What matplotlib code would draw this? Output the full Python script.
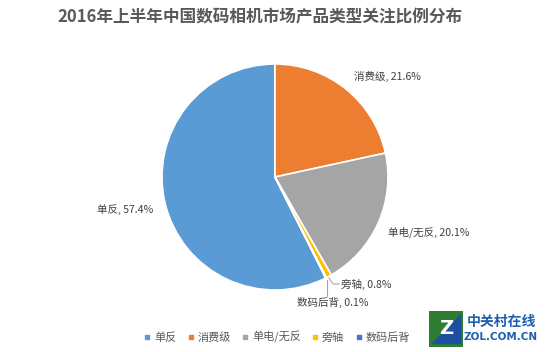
import matplotlib
matplotlib.use("Agg")
import matplotlib.pyplot as plt
import numpy as np

plt.rcParams['font.family'] = ['Noto Sans CJK SC', 'DejaVu Sans']

categories = ['单反', '消费级', '单电/无反', '旁轴', '数码后背']
values = [57.4, 21.6, 20.1, 0.8, 0.1]
colors = ['#5B9BD5', '#ED7D31', '#A5A5A5', '#FFC000', '#4472C4']
title = '2016年上半年中国数码相机市场产品类型关注比例分布'

W, H = 550, 352
fig = plt.figure(figsize=(W / 100, H / 100), dpi=100)
fig.patch.set_facecolor('white')

cx, cy, r = 275, 177, 113
ax = fig.add_axes([(cx - r) / W, (H - cy - r) / H, 2 * r / W, 2 * r / H])

total = sum(values)
start = 90 + 360 * values[0] / total
wedges, _ = ax.pie(values, colors=colors, startangle=start, counterclock=False,
                   wedgeprops=dict(edgecolor='white', linewidth=1.2))
ax.set_xlim(-1, 1)
ax.set_ylim(-1, 1)
ax.set_aspect('equal')
ax.axis('off')

def to_data(px, py):
    return (px - cx) / r, (cy - py) / r

label_pos = [
    ((153, 210), 'right'),
    ((354, 76), 'left'),
    ((388, 232), 'left'),
    ((341, 284), 'left'),
    ((333, 302), 'center'),
]
for cat, v, (p, ha) in zip(categories, values, label_pos):
    x, y = to_data(*p)
    ax.text(x, y, f'{cat}, {v}%', ha=ha, va='center', fontsize=7.6,
            color='#404040', clip_on=False)

# leader lines
lc = '#A6A6A6'
x0, y0 = to_data(329, 278)
x1, y1 = to_data(333, 284)
x2, y2 = to_data(339, 284)
ax.plot([x0, x1, x2], [y0, y1, y1], color=lc, lw=0.8, clip_on=False)
x0, y0 = to_data(327, 280)
x1, y1 = to_data(327, 296)
ax.plot([x0, x1], [y0, y1], color=lc, lw=0.8, clip_on=False)

fig.text(260 / W, 1 - 17 / H, title, ha='center', va='center', fontsize=12,
         fontweight='bold', color='#595959')

handles = [plt.Line2D([], [], marker='s', linestyle='', markersize=3.5,
                      markerfacecolor=c, markeredgecolor=c) for c in colors]
fig.legend(handles, categories, loc='center', bbox_to_anchor=(277 / W, 1 - 337 / H),
           ncol=5, frameon=False, fontsize=8, handlelength=0.6, handletextpad=0.3,
           columnspacing=1.0, labelcolor='#595959')

# watermark
fig.text(501 / W, 1 - 322 / H, '中关村在线', ha='center', va='center', fontsize=10,
         fontweight='bold', color='#1F5FAF')
fig.text(501 / W, 1 - 337 / H, 'ZOL.COM.CN', ha='center', va='center', fontsize=7.5,
         fontweight='bold', color='#1F5FAF', family=['DejaVu Sans'])
lax = fig.add_axes([429 / W, 1 - 347 / H, 34 / W, 36 / H])
lax.add_patch(plt.Rectangle((0, 0), 1, 1, color='#2E7D32'))
lax.add_patch(plt.Polygon([[0.1, 0.1], [0.9, 0.1], [0.9, 0.9]], color='#1E4FA0'))
lax.text(0.5, 0.5, 'Z', ha='center', va='center', fontsize=14, fontweight='bold',
         color='white', family=['DejaVu Sans'])
lax.set_xlim(0, 1); lax.set_ylim(0, 1); lax.axis('off')

fig.savefig('out.png', dpi=100, facecolor='white')
